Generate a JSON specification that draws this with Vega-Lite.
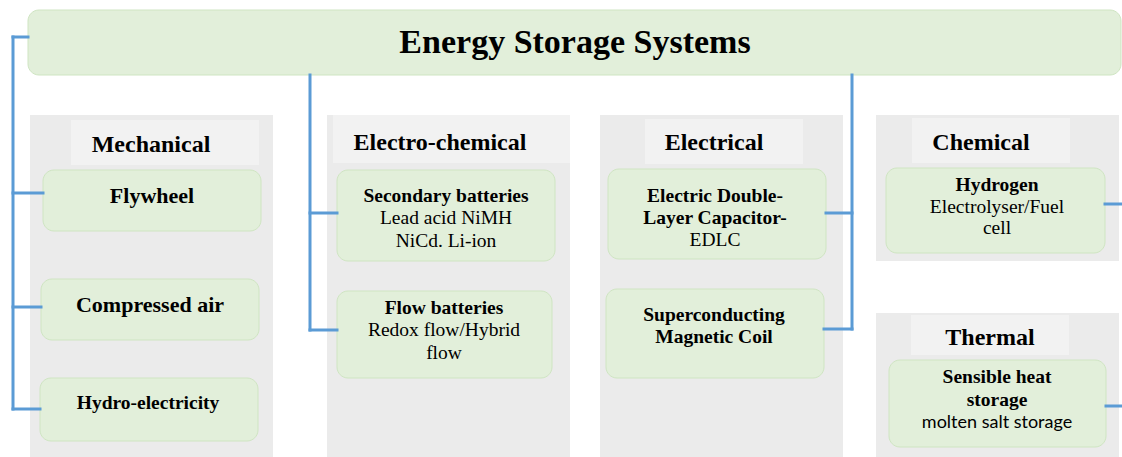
{
  "$schema": "https://vega.github.io/schema/vega-lite/v6.json",
  "width": 1122,
  "height": 457,
  "autosize": {"type": "none"},
  "padding": 0,
  "background": "white",
  "config": {"view": {"stroke": null}},
  "datasets": {
    "panels": [
      {"name": "Mechanical", "x": 30, "x2": 273, "y": 115, "y2": 457},
      {"name": "Electro-chemical", "x": 327, "x2": 570, "y": 115, "y2": 457},
      {"name": "Electrical", "x": 600, "x2": 843, "y": 115, "y2": 457},
      {"name": "Chemical", "x": 876, "x2": 1119, "y": 115, "y2": 261},
      {"name": "Thermal", "x": 876, "x2": 1119, "y": 313, "y2": 457}
    ],
    "headers": [
      {"name": "Mechanical", "x": 71, "x2": 259, "y": 120, "y2": 165},
      {"name": "Electro-chemical", "x": 333, "x2": 570, "y": 115, "y2": 163},
      {"name": "Electrical", "x": 645, "x2": 803, "y": 119, "y2": 164},
      {"name": "Chemical", "x": 912, "x2": 1070, "y": 118, "y2": 163},
      {"name": "Thermal", "x": 911, "x2": 1069, "y": 315, "y2": 355}
    ],
    "boxes": [
      {"name": "Energy Storage Systems", "x": 28, "x2": 1121, "y": 10, "y2": 75},
      {"name": "Flywheel", "x": 43, "x2": 261, "y": 170, "y2": 231},
      {"name": "Compressed air", "x": 41, "x2": 259, "y": 279, "y2": 340},
      {"name": "Hydro-electricity", "x": 40, "x2": 258, "y": 378, "y2": 441},
      {"name": "Secondary batteries", "x": 337, "x2": 555, "y": 170, "y2": 261},
      {"name": "Flow batteries", "x": 337, "x2": 552, "y": 291, "y2": 378},
      {"name": "EDLC", "x": 608, "x2": 826, "y": 169, "y2": 259},
      {"name": "Superconducting Magnetic Coil", "x": 606, "x2": 824, "y": 289, "y2": 378},
      {"name": "Hydrogen", "x": 886, "x2": 1105, "y": 168, "y2": 253},
      {"name": "Sensible heat storage", "x": 889, "x2": 1106, "y": 360, "y2": 447}
    ],
    "links": [
      {"x": 13, "x2": 28, "y": 37, "y2": 37},
      {"x": 13, "x2": 13, "y": 37, "y2": 409},
      {"x": 13, "x2": 43, "y": 193, "y2": 193},
      {"x": 13, "x2": 41, "y": 307, "y2": 307},
      {"x": 13, "x2": 40, "y": 409, "y2": 409},
      {"x": 310, "x2": 310, "y": 75, "y2": 330},
      {"x": 310, "x2": 337, "y": 213, "y2": 213},
      {"x": 310, "x2": 337, "y": 330, "y2": 330},
      {"x": 852, "x2": 852, "y": 75, "y2": 329},
      {"x": 826, "x2": 852, "y": 213, "y2": 213},
      {"x": 824, "x2": 852, "y": 329, "y2": 329},
      {"x": 1105, "x2": 1122, "y": 204, "y2": 204},
      {"x": 1106, "x2": 1122, "y": 406, "y2": 406}
    ],
    "title": [{"text": "Energy Storage Systems", "x": 575, "y": 43}],
    "headerText": [
      {"text": "Mechanical", "x": 151, "y": 145},
      {"text": "Electro-chemical", "x": 440, "y": 143},
      {"text": "Electrical", "x": 714, "y": 143},
      {"text": "Chemical", "x": 981, "y": 143},
      {"text": "Thermal", "x": 990, "y": 338}
    ],
    "bigItems": [
      {"text": "Flywheel", "x": 152, "y": 196},
      {"text": "Compressed air", "x": 150, "y": 305}
    ],
    "boldItems": [
      {"text": "Hydro-electricity", "x": 148, "y": 403},
      {"text": "Secondary batteries", "x": 446, "y": 196},
      {"text": "Flow batteries", "x": 444, "y": 308},
      {"text": "Electric Double-", "x": 715, "y": 196},
      {"text": "Layer Capacitor-", "x": 715, "y": 218},
      {"text": "Superconducting", "x": 714, "y": 315},
      {"text": "Magnetic Coil", "x": 714, "y": 337},
      {"text": "Hydrogen", "x": 997, "y": 185},
      {"text": "Sensible heat", "x": 997, "y": 377},
      {"text": "storage", "x": 997, "y": 400}
    ],
    "plainItems": [
      {"text": "Lead acid NiMH", "x": 446, "y": 218},
      {"text": "NiCd. Li-ion", "x": 446, "y": 241},
      {"text": "Redox flow/Hybrid", "x": 444, "y": 330},
      {"text": "flow", "x": 444, "y": 353},
      {"text": "EDLC", "x": 715, "y": 240},
      {"text": "Electrolyser/Fuel", "x": 997, "y": 207},
      {"text": "cell", "x": 997, "y": 228}
    ],
    "sansItems": [
      {"text": "molten salt storage", "x": 997, "y": 423}
    ]
  },
  "encoding": {
    "x": {"field": "x", "type": "quantitative", "scale": {"domain": [0, 1122], "nice": false, "zero": false}, "axis": null},
    "y": {"field": "y", "type": "quantitative", "scale": {"domain": [0, 457], "nice": false, "zero": false, "reverse": true}, "axis": null}
  },
  "layer": [
    {
      "data": {"name": "panels"},
      "mark": {"type": "rect", "color": "#ebebeb"},
      "encoding": {"x2": {"field": "x2"}, "y2": {"field": "y2"}}
    },
    {
      "data": {"name": "headers"},
      "mark": {"type": "rect", "color": "#f2f2f2"},
      "encoding": {"x2": {"field": "x2"}, "y2": {"field": "y2"}}
    },
    {
      "data": {"name": "boxes"},
      "mark": {"type": "rect", "fill": "#e2efda", "stroke": "#cfe5c2", "strokeWidth": 1, "cornerRadius": 11},
      "encoding": {"x2": {"field": "x2"}, "y2": {"field": "y2"}}
    },
    {
      "data": {"name": "links"},
      "mark": {"type": "rule", "color": "#5b9bd5", "strokeWidth": 3, "strokeCap": "square"},
      "encoding": {"x2": {"field": "x2"}, "y2": {"field": "y2"}}
    },
    {
      "data": {"name": "title"},
      "mark": {"type": "text", "font": "Liberation Serif", "fontWeight": "bold", "fontSize": 34, "align": "center", "baseline": "middle", "color": "black"},
      "encoding": {"text": {"field": "text"}}
    },
    {
      "data": {"name": "headerText"},
      "mark": {"type": "text", "font": "Liberation Serif", "fontWeight": "bold", "fontSize": 24, "align": "center", "baseline": "middle", "color": "black"},
      "encoding": {"text": {"field": "text"}}
    },
    {
      "data": {"name": "bigItems"},
      "mark": {"type": "text", "font": "Liberation Serif", "fontWeight": "bold", "fontSize": 22, "align": "center", "baseline": "middle", "color": "black"},
      "encoding": {"text": {"field": "text"}}
    },
    {
      "data": {"name": "boldItems"},
      "mark": {"type": "text", "font": "Liberation Serif", "fontWeight": "bold", "fontSize": 19.5, "align": "center", "baseline": "middle", "color": "black"},
      "encoding": {"text": {"field": "text"}}
    },
    {
      "data": {"name": "plainItems"},
      "mark": {"type": "text", "font": "Liberation Serif", "fontSize": 19.5, "align": "center", "baseline": "middle", "color": "black"},
      "encoding": {"text": {"field": "text"}}
    },
    {
      "data": {"name": "sansItems"},
      "mark": {"type": "text", "font": "Lato", "fontSize": 18, "align": "center", "baseline": "middle", "color": "black"},
      "encoding": {"text": {"field": "text"}}
    }
  ]
}
